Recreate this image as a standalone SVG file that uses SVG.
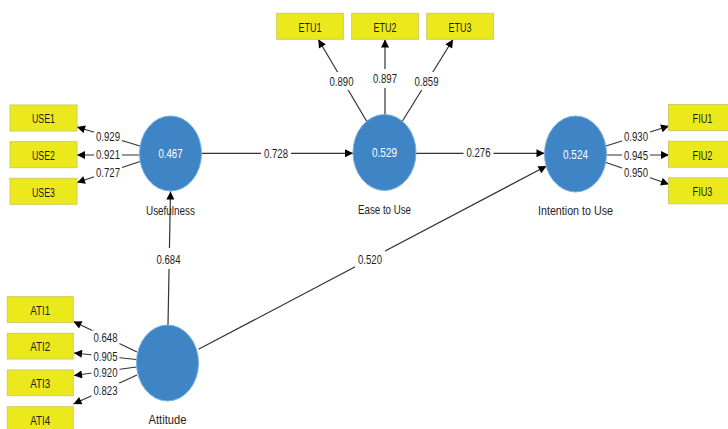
<svg xmlns="http://www.w3.org/2000/svg" width="728" height="429" viewBox="0 0 728 429">
<style>
.t{font-family:"Liberation Sans",Arial,sans-serif;font-size:13px;fill:#1e1e1e;text-anchor:middle}
.n{font-family:"Liberation Sans",Arial,sans-serif;font-size:13px;fill:#ffffff;text-anchor:middle}
.box{fill:#ebe91c;stroke:#cfcd5e;stroke-width:1}
.lv{fill:#3f85c6;stroke:#78aee0;stroke-width:1}
.c{stroke:#333;stroke-width:1.2;fill:none;marker-end:url(#ah)}
.bg{fill:#fff}
</style>
<defs>
<marker id="ah" viewBox="0 0 10 10" refX="10" refY="5" markerWidth="9" markerHeight="8" markerUnits="userSpaceOnUse" orient="auto"><path d="M0,0 L10,5 L0,10 z" fill="#000"/></marker>
</defs>
<rect width="728" height="429" fill="#fff"/>
<g id="connectors">
<line class="c" x1="201.5" y1="153.3" x2="353" y2="153.3"/>
<line class="c" x1="416" y1="153.3" x2="544.5" y2="153.3"/>
<line class="c" x1="168" y1="325" x2="170.5" y2="191.5"/>
<line class="c" x1="198.5" y1="349.3" x2="546.5" y2="166"/>
<line class="c" x1="140" y1="146" x2="77" y2="127"/>
<line class="c" x1="139.5" y1="155" x2="77" y2="155"/>
<line class="c" x1="140" y1="161.5" x2="77" y2="182.5"/>
<line class="c" x1="367" y1="121.7" x2="318.3" y2="39.5"/>
<line class="c" x1="385" y1="114.5" x2="385" y2="39.5"/>
<line class="c" x1="402" y1="121.7" x2="453" y2="39.5"/>
<line class="c" x1="606" y1="146" x2="669" y2="126"/>
<line class="c" x1="606.5" y1="155" x2="669" y2="155"/>
<line class="c" x1="606" y1="162.5" x2="669" y2="184.3"/>
<line class="c" x1="137" y1="352" x2="73.5" y2="321.5"/>
<line class="c" x1="136.5" y1="359.5" x2="74" y2="353"/>
<line class="c" x1="136.5" y1="367" x2="74" y2="375.5"/>
<line class="c" x1="137" y1="375" x2="73.5" y2="404"/>
<g id="labels">
<rect class="bg" x="94" y="130" width="28" height="13"/>
<rect class="bg" x="94" y="148" width="28" height="13"/>
<rect class="bg" x="94" y="165.5" width="28" height="13"/>
<rect class="bg" x="261" y="146" width="30" height="14"/>
<rect class="bg" x="463.5" y="145.7" width="30" height="14"/>
<rect class="bg" x="327.5" y="72" width="28" height="18"/>
<rect class="bg" x="372" y="69" width="26" height="19"/>
<rect class="bg" x="412.5" y="72" width="28" height="18"/>
<rect class="bg" x="622" y="130" width="28" height="13"/>
<rect class="bg" x="622" y="148.5" width="28" height="13"/>
<rect class="bg" x="622" y="165.8" width="28" height="13"/>
<rect class="bg" x="155.5" y="248" width="26" height="21"/>
<rect class="bg" x="355" y="250" width="30" height="18"/>
<rect class="bg" x="91.5" y="330.5" width="28" height="13.5"/>
<rect class="bg" x="91.5" y="349.5" width="28" height="13"/>
<rect class="bg" x="91.5" y="365.5" width="28" height="13"/>
<rect class="bg" x="91.5" y="383" width="28" height="14"/>
<text class="t" x="108" y="141.2" textLength="24" lengthAdjust="spacingAndGlyphs">0.929</text>
<text class="t" x="108" y="159.2" textLength="24" lengthAdjust="spacingAndGlyphs">0.921</text>
<text class="t" x="108" y="176.7" textLength="24" lengthAdjust="spacingAndGlyphs">0.727</text>
<text class="t" x="276" y="157.7" textLength="24" lengthAdjust="spacingAndGlyphs">0.728</text>
<text class="t" x="478.5" y="157.4" textLength="24" lengthAdjust="spacingAndGlyphs">0.276</text>
<text class="t" x="341.5" y="85.7" textLength="24" lengthAdjust="spacingAndGlyphs">0.890</text>
<text class="t" x="385" y="83.2" textLength="24" lengthAdjust="spacingAndGlyphs">0.897</text>
<text class="t" x="426.5" y="85.7" textLength="24" lengthAdjust="spacingAndGlyphs">0.859</text>
<text class="t" x="636" y="141.2" textLength="24" lengthAdjust="spacingAndGlyphs">0.930</text>
<text class="t" x="636" y="159.7" textLength="24" lengthAdjust="spacingAndGlyphs">0.945</text>
<text class="t" x="636" y="177" textLength="24" lengthAdjust="spacingAndGlyphs">0.950</text>
<text class="t" x="168.5" y="264" textLength="24" lengthAdjust="spacingAndGlyphs">0.684</text>
<text class="t" x="370" y="264" textLength="24" lengthAdjust="spacingAndGlyphs">0.520</text>
<text class="t" x="105.5" y="342" textLength="24" lengthAdjust="spacingAndGlyphs">0.648</text>
<text class="t" x="105.5" y="360.7" textLength="24" lengthAdjust="spacingAndGlyphs">0.905</text>
<text class="t" x="105.5" y="376.7" textLength="24" lengthAdjust="spacingAndGlyphs">0.920</text>
<text class="t" x="105.5" y="394.7" textLength="24" lengthAdjust="spacingAndGlyphs">0.823</text>
</g>
</g>
<g id="usefulness">
<ellipse class="lv" cx="170.5" cy="153.5" rx="31" ry="37.5"/>
<text class="n" x="170.5" y="158" textLength="24" lengthAdjust="spacingAndGlyphs">0.467</text>
<text class="t" x="170.5" y="214.5" textLength="49" lengthAdjust="spacingAndGlyphs">Usefulness</text>
</g>
<g id="ease-to-use">
<ellipse class="lv" cx="384.5" cy="152.5" rx="31.5" ry="38"/>
<text class="n" x="384.5" y="157" textLength="25" lengthAdjust="spacingAndGlyphs">0.529</text>
<text class="t" x="384.5" y="213.5" textLength="53" lengthAdjust="spacingAndGlyphs">Ease to Use</text>
</g>
<g id="intention-to-use">
<ellipse class="lv" cx="575.5" cy="154" rx="31" ry="38"/>
<text class="n" x="575.5" y="158.5" textLength="25" lengthAdjust="spacingAndGlyphs">0.524</text>
<text class="t" x="575.5" y="214.5" textLength="75" lengthAdjust="spacingAndGlyphs">Intention to Use</text>
</g>
<g id="attitude">
<ellipse class="lv" cx="167.5" cy="363" rx="31" ry="38"/>
<text class="t" x="167.5" y="423.6" textLength="38" lengthAdjust="spacingAndGlyphs">Attitude</text>
</g>
<g id="USE1"><rect class="box" x="10" y="105" width="67" height="26"/><text class="t" x="43.5" y="123.3" textLength="23" lengthAdjust="spacingAndGlyphs">USE1</text></g>
<g id="USE2"><rect class="box" x="10" y="141.7" width="67" height="26"/><text class="t" x="43.5" y="160" textLength="23" lengthAdjust="spacingAndGlyphs">USE2</text></g>
<g id="USE3"><rect class="box" x="10" y="178.3" width="67" height="26"/><text class="t" x="43.5" y="196.6" textLength="23" lengthAdjust="spacingAndGlyphs">USE3</text></g>
<g id="ETU1"><rect class="box" x="276.7" y="13.3" width="66.7" height="26"/><text class="t" x="310" y="31.6" textLength="23" lengthAdjust="spacingAndGlyphs">ETU1</text></g>
<g id="ETU2"><rect class="box" x="351.7" y="13.3" width="66.7" height="26"/><text class="t" x="385" y="31.6" textLength="23" lengthAdjust="spacingAndGlyphs">ETU2</text></g>
<g id="ETU3"><rect class="box" x="426.7" y="13.3" width="66.7" height="26"/><text class="t" x="460" y="31.6" textLength="23" lengthAdjust="spacingAndGlyphs">ETU3</text></g>
<g id="FIU1"><rect class="box" x="668.5" y="104.5" width="67" height="26"/><text class="t" x="702.5" y="123.1" textLength="20" lengthAdjust="spacingAndGlyphs">FIU1</text></g>
<g id="FIU2"><rect class="box" x="668.5" y="141.2" width="67" height="26"/><text class="t" x="702.5" y="159.8" textLength="20" lengthAdjust="spacingAndGlyphs">FIU2</text></g>
<g id="FIU3"><rect class="box" x="668.5" y="177.8" width="67" height="26"/><text class="t" x="702.5" y="196.4" textLength="20" lengthAdjust="spacingAndGlyphs">FIU3</text></g>
<g id="ATI1"><rect class="box" x="7.3" y="296.7" width="66" height="25.7"/><text class="t" x="40.3" y="314.6" textLength="20" lengthAdjust="spacingAndGlyphs">ATI1</text></g>
<g id="ATI2"><rect class="box" x="7.3" y="333.3" width="66" height="25.7"/><text class="t" x="40.3" y="351.2" textLength="20" lengthAdjust="spacingAndGlyphs">ATI2</text></g>
<g id="ATI3"><rect class="box" x="7.3" y="370" width="66" height="25.7"/><text class="t" x="40.3" y="387.9" textLength="20" lengthAdjust="spacingAndGlyphs">ATI3</text></g>
<g id="ATI4"><rect class="box" x="7.3" y="406.7" width="66" height="25.7"/><text class="t" x="40.3" y="424.6" textLength="20" lengthAdjust="spacingAndGlyphs">ATI4</text></g>
</svg>
